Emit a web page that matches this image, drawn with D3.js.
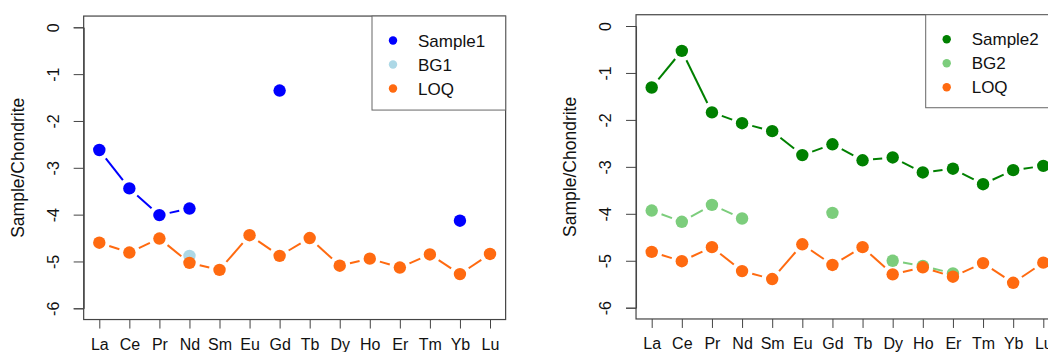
<!DOCTYPE html>
<html>
<head>
<meta charset="utf-8">
<script src="https://cdn.jsdelivr.net/npm/d3@7"></script>
<style>
  body { margin: 0; background: #fff; }
  svg { display: block; font-family: "Liberation Sans", Arial, sans-serif; }
</style>
</head>
<body>
<svg id="chart" width="1048" height="352"></svg>
<script>
// REE elements on the x axis
const elements = ['La', 'Ce', 'Pr', 'Nd', 'Sm', 'Eu', 'Gd', 'Tb', 'Dy', 'Ho', 'Er', 'Tm', 'Yb', 'Lu'];
const yTicks = [0, -1, -2, -3, -4, -5, -6];

// panel 1
const sample1 = [-2.62, -3.44, -4.01, -3.87, null, null, -1.35, null, null, null, null, null, -4.13, null];
const bg1     = [null, null, null, -4.88, null, null, null, null, null, null, null, null, null, null];
const loq1    = [-4.60, -4.81, -4.51, -5.03, -5.18, -4.44, -4.88, -4.50, -5.09, -4.94, -5.13, -4.85, -5.27, -4.84];

// panel 2
const sample2 = [-1.31, -0.53, -1.84, -2.07, -2.24, -2.75, -2.52, -2.86, -2.80, -3.12, -3.04, -3.37, -3.07, -2.98];
const bg2     = [-3.93, -4.17, -3.81, -4.10, null, null, -3.98, null, -5.00, -5.11, -5.27, null, null, null];
const loq2    = [-4.81, -5.01, -4.71, -5.22, -5.39, -4.65, -5.09, -4.71, -5.29, -5.14, -5.34, -5.05, -5.47, -5.04];

const svg = d3.select('#chart');

function drawPanel(p) {
  const g = svg.append('g');
  const x = d3.scalePoint().domain(elements).range([p.x0, p.x1]);
  const y = d3.scaleLinear().domain([-6, 0]).range([p.y0, p.y1]);

  // R style 4% padding around the data range
  const padX = (p.x1 - p.x0) * 0.04, padY = (p.y0 - p.y1) * 0.04;
  const left = p.x0 - padX, right = p.x1 + padX, top = p.y1 - padY, bottom = p.y0 + padY;

  // y axis
  const ya = g.append('g').attr('transform', `translate(${left},0)`)
    .call(d3.axisLeft(y).tickValues(yTicks).tickSize(10).tickFormat(d3.format('d')));
  ya.select('.domain').attr('stroke', '#444');
  ya.selectAll('.tick line').attr('stroke', '#444');
  ya.selectAll('.tick text').remove();
  ya.selectAll('.tick').append('text')
    .attr('transform', 'rotate(-90)')
    .attr('x', 0).attr('y', -25)
    .attr('text-anchor', 'middle')
    .attr('fill', '#111').attr('font-size', 16)
    .text(d => d);

  // x axis
  const xa = g.append('g').attr('transform', `translate(0,${bottom})`)
    .call(d3.axisBottom(x).tickSize(9).tickPadding(10));
  xa.select('.domain').remove();
  xa.selectAll('.tick line').attr('stroke', '#444');
  xa.selectAll('.tick text').attr('fill', '#111').attr('font-size', 16).attr('font-family', null);

  // axis title
  g.append('text')
    .attr('transform', `translate(${left - 60},${(top + bottom) / 2}) rotate(-90)`)
    .attr('text-anchor', 'middle')
    .attr('font-size', 17.5).attr('fill', '#111')
    .text('Sample/Chondrite');

  // plot box
  g.append('rect')
    .attr('x', left).attr('y', top)
    .attr('width', right - left).attr('height', bottom - top)
    .attr('fill', 'none').attr('stroke', '#444').attr('stroke-width', 1.2);

  // series, drawn like type = "b" (gaps around points)
  const gap = 10.5;
  p.series.forEach(s => {
    const pts = s.values.map((v, i) => v == null ? null : [x(elements[i]), y(v)]);
    for (let i = 0; i < pts.length - 1; i++) {
      const a = pts[i], b = pts[i + 1];
      if (!a || !b) continue;
      const dx = b[0] - a[0], dy = b[1] - a[1], len = Math.hypot(dx, dy);
      if (len <= 2 * gap) continue;
      const ux = dx / len, uy = dy / len;
      g.append('line')
        .attr('x1', a[0] + ux * gap).attr('y1', a[1] + uy * gap)
        .attr('x2', b[0] - ux * gap).attr('y2', b[1] - uy * gap)
        .attr('stroke', s.color).attr('stroke-width', 2);
    }
    g.selectAll(null)
      .data(pts.filter(d => d))
      .enter().append('circle')
      .attr('cx', d => d[0]).attr('cy', d => d[1])
      .attr('r', 6.2)
      .attr('fill', s.color);
  });

  // legend
  const lg = g.append('g');
  lg.append('rect')
    .attr('x', p.legX).attr('y', top)
    .attr('width', right - p.legX).attr('height', p.legH)
    .attr('fill', '#fff').attr('stroke', '#666').attr('stroke-width', 1);
  p.series.forEach((s, i) => {
    const cy = top + 24.5 + i * 24;
    lg.append('circle').attr('cx', p.legX + 21).attr('cy', cy).attr('r', 4.2).attr('fill', s.color);
    lg.append('text')
      .attr('x', p.legX + 46).attr('y', cy + 6)
      .attr('font-size', 17).attr('fill', '#111')
      .text(s.name);
  });
}

drawPanel({
  x0: 99.3, x1: 490, y0: 308.3, y1: 27.3,
  legX: 372, legH: 94,
  series: [
    { name: 'Sample1', color: '#0000FF', values: sample1 },
    { name: 'BG1', color: '#ADD8E6', values: bg1 },
    { name: 'LOQ', color: '#FF6A10', values: loq1 }
  ]
});

drawPanel({
  x0: 651.7, x1: 1043.3, y0: 307.7, y1: 26,
  legX: 925.7, legH: 93,
  series: [
    { name: 'Sample2', color: '#008000', values: sample2 },
    { name: 'BG2', color: '#7CCD7C', values: bg2 },
    { name: 'LOQ', color: '#FF6A10', values: loq2 }
  ]
});
</script>
</body>
</html>
